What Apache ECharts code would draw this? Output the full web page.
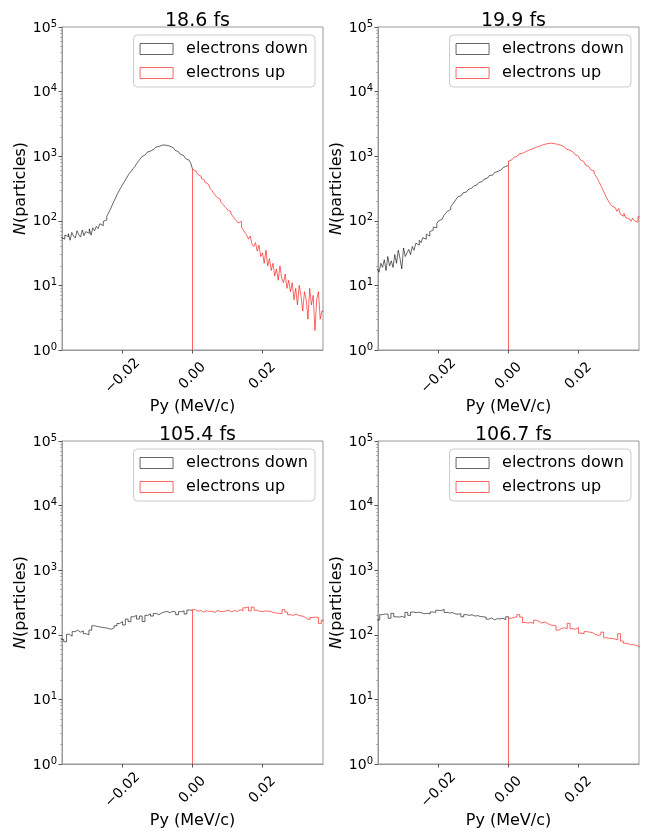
<!DOCTYPE html>
<html><head><meta charset="utf-8">
<script src="https://cdn.jsdelivr.net/npm/echarts@6/dist/echarts.min.js"></script>
<style>html,body{margin:0;padding:0;background:#fff}#c{width:651px;height:835px}</style>
</head><body><div id="c"></div>
<script>
const titles = ['18.6 fs', '19.9 fs', '105.4 fs', '106.7 fs'];
const seriesNames = ['electrons down', 'electrons up'];
const xTicks = [-0.02, 0, 0.02];
const yTicks = [1, 10, 100, 1000, 10000, 100000];
const yMinorTicks = [2,3,4,5,6,7,8,9,20,30,40,50,60,70,80,90,200,300,400,500,600,700,800,900,
  2000,3000,4000,5000,6000,7000,8000,9000,20000,30000,40000,50000,60000,70000,80000,90000];
const binWidthTop = 0.0005;
const binWidthBottom = 0.0008;

// 18.6 fs
const down186 = [55,52,60,57,63,50,66,58,54,70,61,56,72,59,68,64,75,60,78,70,82,
  76,90,84,98,
  103,118,132,150,172,198,
  225,258,290,325,360,400,
  445,495,545,590,640,690,
  760,830,900,980,1050,
  1100,1150,1200,1240,1280,1320,
  1380,1420,1460,1490,
  1500,1480,1460,1430,1390,1350,1300,1240,1170,
  1120,1070,1020,970,920,870,830,780];
const up186 = [630,590,555,520,490,455,425,395,370,345,320,295,270,250,230,
  215,200,185,172,160,148,138,128,118,108,100,
  93,98,80,72,66,
  60,52,58,44,40,46,34,
  42,28,32,22,35,20,26,17,
  22,14,18,12,20,13,11,15,9,12,
  8,11,6,9,5,10,7,
  4,8,6,3,9,5,7,2,6,8,3,4];
// 19.9 fs
const down199 = [18,16,22,19,25,17,28,20,24,19,30,22,35,26,18,38,28,
  32,36,30,40,35,45,42,50,46,55,52,62,58,68,72,80,78,90,100,
  105,112,120,130,140,150,165,180,195,215,235,
  245,255,270,280,295,305,320,330,345,360,375,390,405,420,440,460,
  480,500,510,540,560,580,600,620,650,670,700,730];
const up199 = [840,880,920,960,1000,1040,1080,1110,1150,1180,1220,1250,1280,1310,
  1340,1380,1410,1440,1480,1510,1540,1560,1580,1590,
  1580,1570,1550,1530,1500,1470,1430,1390,1340,1290,1240,1200,1160,
  1110,1060,1000,940,880,830,780,730,690,650,620,590,
  540,490,440,390,340,300,260,230,205,185,170,160,
  150,140,155,125,118,130,112,108,
  102,98,110,100,95,115];
// 105.4 fs
const down1054 = [85,78,102,95,112,118,110,115,104,100,118,138,135,132,130,128,125,122,128,138,150,
  160,142,175,160,190,200,175,195,160,200,210,195,214,205,218,225,230,220,232,225,205,228,235,210,242,240];
const up1054 = [245,232,238,225,235,230,232,222,238,230,228,
  235,240,226,238,230,245,236,
  262,270,235,268,
  240,232,228,234,232,230,220,218,
  214,212,245,225,
  205,200,210,198,196,190,178,
  172,185,188,186,150,168];
// 106.7 fs
const down1067 = [170,205,210,208,180,215,190,188,192,185,222,200,225,220,224,218,212,215,210,226,222,
  240,236,248,222,218,220,212,208,212,190,205,200,204,195,198,192,190,188,175,182,170,178,176,180,172,190];
const up1067 = [180,186,190,205,188,155,152,156,150,168,160,152,158,150,142,140,138,118,126,128,125,
  150,124,122,130,106,104,112,110,108,102,98,100,110,90,88,88,86,84,104,80,74,72,70,70,68,65];

const panels = [
  {title: titles[0], down: down186, up: up186, w: binWidthTop},
  {title: titles[1], down: down199, up: up199, w: binWidthTop},
  {title: titles[2], down: down1054, up: up1054, w: binWidthBottom},
  {title: titles[3], down: down1067, up: up1067, w: binWidthBottom}
];

const colDown = 'rgba(0,0,0,0.6)';
const colUp = 'rgba(255,0,0,0.6)';
const yMin = 1, yMax = 100000;
const xLim = 0.0373;

function downPath(vals, w, upFirst) {
  const n = vals.length, pts = [];
  for (let i = 0; i < n; i++) {
    pts.push([(i - n) * w, vals[i]], [(i - n + 1) * w, vals[i]]);
  }
  // right edge: only the part above the red outline stays visible
  pts.push([0, Math.min(vals[n - 1], upFirst)]);
  return pts;
}
function upPath(vals, w) {
  const pts = [[0, yMin]];
  for (let i = 0; i < vals.length; i++) {
    pts.push([i * w, vals[i]], [(i + 1) * w, vals[i]]);
  }
  return pts;
}

const gridPos = [
  {left: 62, top: 27}, {left: 378, top: 27},
  {left: 62, top: 441}, {left: 378, top: 441}
];
const FONT = 'DejaVu Sans';
const option = {
  animation: false,
  backgroundColor: '#fff',
  textStyle: {fontFamily: FONT, color: '#000'},
  title: [], grid: [], xAxis: [], yAxis: [], series: [], legend: []
};
panels.forEach((p, k) => {
  const g = gridPos[k];
  option.grid.push({left: g.left, top: g.top, width: 261, height: 323, show: true,
    borderColor: '#999', borderWidth: 1, backgroundColor: 'transparent', containLabel: false});
  option.title.push({text: p.title, left: g.left + 130.5, top: g.top - 20, textAlign: 'center',
    textStyle: {fontFamily: FONT, fontSize: 19, fontWeight: 'normal', color: '#000'}});
  option.xAxis.push({type: 'value', gridIndex: k, min: -xLim, max: xLim,
    name: 'Py (MeV/c)', nameLocation: 'middle', nameGap: 48,
    nameTextStyle: {fontSize: 16, color: '#000', fontFamily: FONT},
    splitLine: {show: false},
    axisLine: {show: true, onZero: false, lineStyle: {color: '#999', width: 1}},
    axisTick: {show: true, length: 3.5, inside: false, customValues: xTicks, lineStyle: {color: '#555'}},
    axisLabel: {show: true, customValues: xTicks, rotate: 45, align: 'center', verticalAlign: 'middle', margin: 26,
      fontSize: 14, color: '#000', fontFamily: FONT,
      formatter: v => (v < 0 ? '\u2212' : '') + Math.abs(v).toFixed(2)}
  });
  option.yAxis.push({type: 'log', logBase: 10, gridIndex: k, min: yMin, max: yMax, position: 'left',
    name: '{i|N}(particles)', nameLocation: 'middle', nameGap: 31,
    nameTextStyle: {fontSize: 16, color: '#000', fontFamily: FONT,
      rich: {i: {fontStyle: 'italic', fontSize: 16, fontFamily: FONT, color: '#000'}}},
    splitLine: {show: false},
    axisLine: {show: true, onZero: false, lineStyle: {color: '#999', width: 1}},
    axisTick: {show: true, length: 3.5, customValues: yTicks, lineStyle: {color: '#555'}},
    axisLabel: {show: true, customValues: yTicks, margin: 5, color: '#000',
      formatter: v => '{b|10}{s|' + Math.round(Math.log10(v)) + '}',
      rich: {
        b: {fontSize: 14, lineHeight: 16, verticalAlign: 'bottom', fontFamily: FONT, color: '#000'},
        s: {fontSize: 10, lineHeight: 10, verticalAlign: 'top', fontFamily: FONT, color: '#000'}
      }}
  });
  // minor ticks axis
  option.yAxis.push({type: 'log', logBase: 10, gridIndex: k, min: yMin, max: yMax, position: 'left',
    splitLine: {show: false}, axisLine: {show: false, onZero: false},
    axisTick: {show: true, length: 2, customValues: yMinorTicks, lineStyle: {color: '#888', width: 0.6}},
    axisLabel: {show: false}
  });
  const yIdx = k * 2;
  option.series.push({type: 'line', name: seriesNames[0], xAxisIndex: k, yAxisIndex: yIdx,
    data: downPath(p.down, p.w, p.up[0]), showSymbol: false, symbol: 'none', clip: true,
    lineStyle: {color: colDown, width: 1}, itemStyle: {color: colDown}, emphasis: {disabled: true}});
  option.series.push({type: 'line', name: seriesNames[1], xAxisIndex: k, yAxisIndex: yIdx,
    data: upPath(p.up, p.w), showSymbol: false, symbol: 'none', clip: true,
    lineStyle: {color: colUp, width: 1}, itemStyle: {color: colUp}, emphasis: {disabled: true}});
  option.legend.push({
    orient: 'vertical',
    right: 651 - (g.left + 261) + 8,
    top: g.top + 8,
    icon: 'rect', itemWidth: 33, itemHeight: 11, itemGap: 8,
    padding: [6, 7, 6, 6],
    backgroundColor: 'rgba(255,255,255,0.8)', borderColor: '#ccc', borderWidth: 1, borderRadius: 4,
    textStyle: {fontSize: 16, color: '#000', fontFamily: FONT, padding: [0, 0, 0, 8]},
    selectedMode: false,
    data: [
      {name: seriesNames[0], itemStyle: {color: 'rgba(0,0,0,0)', borderColor: colDown, borderWidth: 1}},
      {name: seriesNames[1], itemStyle: {color: 'rgba(0,0,0,0)', borderColor: colUp, borderWidth: 1}}
    ]
  });
});
const chart = echarts.init(document.getElementById('c'), null, {renderer: 'canvas'});
chart.setOption(option);
</script></body></html>
